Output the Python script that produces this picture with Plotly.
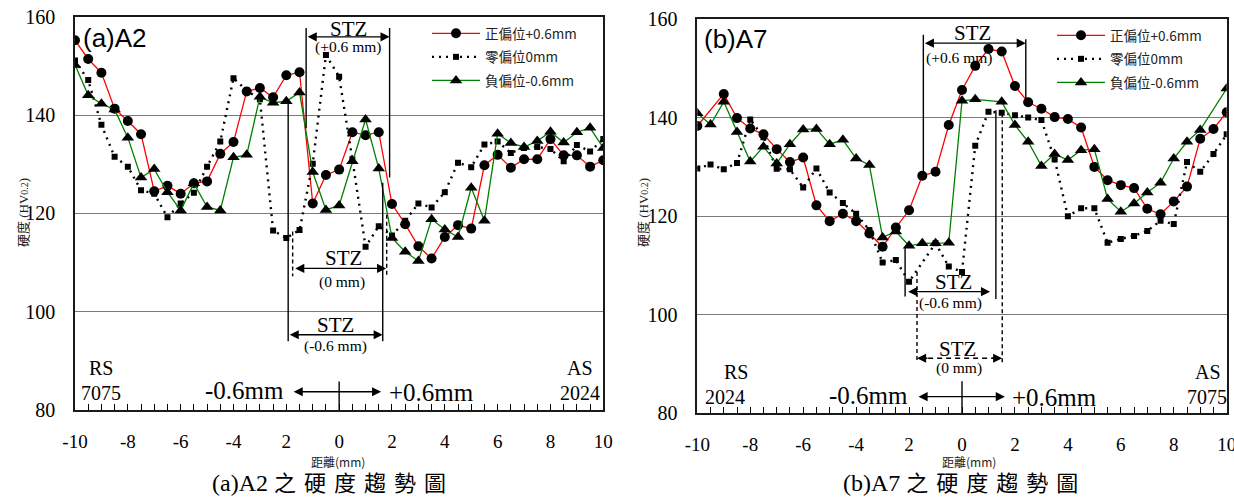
import plotly.graph_objects as go

# ---------------- data ----------------
SERIES_NAMES = ["正偏位+0.6mm", "零偏位0mm", "負偏位-0.6mm"]

# (a) A2 : hardness profile (HV0.2) vs distance from weld centre (mm)
x_a2 = [-10.0, -9.5, -9.0, -8.5, -8.0, -7.5, -7.0, -6.5, -6.0, -5.5, -5.0, -4.5, -4.0, -3.5,
        -3.0, -2.5, -2.0, -1.5, -1.0, -0.5, 0.0, 0.5, 1.0, 1.5, 2.0, 2.5, 3.0, 3.5, 4.0, 4.5,
        5.0, 5.5, 6.0, 6.5, 7.0, 7.5, 8.0, 8.5, 9.0, 9.5, 10.0]
pos_a2 = [155.2, 151.4, 148.6, 141.3, 138.8, 136.1, 124.5, 125.6, 124.0, 126.1, 126.5, 132.1,
          134.5, 144.8, 145.5, 143.6, 148.1, 148.7, 122.0, 127.8, 128.9, 136.5, 135.9, 136.5,
          121.9, 117.8, 113.3, 110.8, 115.2, 117.6, 116.9, 129.8, 131.9, 129.3, 131.0, 131.0,
          135.1, 131.8, 131.8, 129.5, 130.8]
zero_a2 = [151.1, 147.1, 138.0, 131.5, 129.5, 124.7, 124.0, 119.2, 122.0, 124.2, 129.5, 134.6,
           147.5, 145.0, 143.2, 116.5, 115.0, 116.6, 130.1, 152.2, 147.8, 131.0, 113.2, 117.4,
           115.5, 118.5, 122.0, 121.2, 124.3, 130.3, 129.4, 134.0, 134.6, 132.3, 133.3, 133.5,
           133.1, 130.6, 133.9, 132.6, 135.1]
neg_a2 = [150.2, 144.0, 142.3, 141.1, 135.4, 127.3, 129.0, 124.3, 120.6, 126.1, 121.3, 120.6,
          131.4, 131.9, 143.7, 142.5, 142.8, 144.6, 128.4, 120.7, 121.6, 130.6, 139.1, 129.1,
          115.0, 112.2, 110.3, 118.8, 116.7, 115.2, 125.2, 118.5, 136.2, 134.3, 133.5, 134.7,
          136.6, 134.4, 136.5, 137.4, 133.3]

# (b) A7
x_a7_pos = [-10.0, -9.0, -8.5, -8.0, -7.5, -7.0, -6.5, -6.0, -5.5, -5.0, -4.5, -4.0, -3.5,
            -3.0, -2.5, -2.0, -1.5, -1.0, -0.5, 0.0, 0.5, 1.0, 1.5, 2.0, 2.5, 3.0, 3.5, 4.0,
            4.5, 5.0, 5.5, 6.0, 6.5, 7.0, 7.5, 8.0, 8.5, 9.0, 9.5, 10.0]
pos_a7 = [138.3, 144.8, 139.9, 137.8, 136.6, 133.6, 131.0, 131.9, 122.2, 119.0, 120.5, 119.0,
          116.5, 113.8, 117.7, 121.2, 128.2, 129.0, 138.5, 145.6, 150.5, 153.9, 153.4, 146.4,
          143.1, 141.8, 140.1, 139.7, 138.0, 130.0, 127.3, 126.3, 125.7, 121.5, 120.4, 123.0,
          126.0, 135.7, 137.7, 141.1]
x_a7_zero = [-10.0, -9.5, -9.0, -8.5, -8.0, -7.5, -7.0, -6.5, -6.0, -5.5, -5.0, -4.5, -4.0,
             -3.5, -3.0, -2.5, -2.0, -1.0, -0.5, 0.0, 0.5, 1.0, 1.5, 2.0, 2.5, 3.0, 3.5, 4.0,
             4.5, 5.0, 5.5, 6.0, 6.5, 7.0, 7.5, 8.0, 8.5, 9.0, 9.5, 10.0]
zero_a7 = [129.7, 130.5, 129.5, 130.8, 139.6, 136.0, 129.6, 129.5, 125.8, 129.7, 124.8, 122.7,
           120.5, 117.2, 110.6, 111.1, 106.7, 114.5, 109.8, 108.7, 134.3, 141.2, 141.0, 140.5,
           140.0, 139.5, 131.5, 120.0, 121.6, 121.6, 114.6, 115.4, 116.0, 117.0, 119.1, 118.4,
           131.0, 129.0, 132.6, 136.6]
x_a7_neg = [-10.0, -9.5, -9.0, -8.5, -8.0, -7.5, -7.0, -6.5, -6.0, -5.5, -5.0, -4.5, -4.0,
            -3.5, -3.0, -2.5, -2.0, -1.5, -1.0, -0.5, 0.0, 0.5, 1.5, 2.0, 2.5, 3.0, 3.5, 4.0,
            4.5, 5.0, 5.5, 6.0, 6.5, 7.0, 7.5, 8.0, 8.5, 9.0, 10.0]
neg_a7 = [140.9, 138.6, 143.2, 137.1, 131.1, 134.1, 130.7, 134.6, 137.6, 137.7, 134.6, 135.5,
          131.7, 130.4, 115.7, 116.9, 114.0, 114.5, 114.5, 114.6, 143.4, 143.7, 143.2, 138.5,
          135.1, 130.2, 132.6, 131.4, 133.4, 133.6, 123.5, 120.9, 122.6, 124.8, 126.8, 131.7,
          135.1, 137.5, 145.9]

x_tick_vals = [-10, -8, -6, -4, -2, 0, 2, 4, 6, 8, 10]
x_tick_text = ["-10", "-8", "-6", "-4", "2", "0", "2", "4", "6", "8", "10"]
y_tick_vals = [80, 100, 120, 140, 160]

# ---------------- styling helpers ----------------
W, H = 1234, 498
SERIF = "Liberation Serif, Times New Roman, serif"
CJK = "Noto Sans CJK TC, Noto Sans CJK SC, sans-serif"
RED = "#ff0000"
GREEN = "#008000"

fig = go.Figure()


def add_panel(xa, ya, leg, xs, ys):
    specs = [
        (SERIES_NAMES[0], xs[0], ys[0], dict(color=RED, width=1.3), "circle", 10),
        (SERIES_NAMES[1], xs[1], ys[1], dict(color="black", width=2.4, dash="2px,5px"), "square", 6),
        (SERIES_NAMES[2], xs[2], ys[2], dict(color=GREEN, width=1.3), "triangle-up", 11),
    ]
    for i, (name, x, y, line, sym, size) in enumerate(specs):
        fig.add_trace(go.Scatter(
            x=x, y=y, name=name, mode="lines+markers", line=line,
            marker=dict(symbol=sym, size=size, color="black", line=dict(width=0)),
            xaxis=xa, yaxis=ya, legend=leg, legendgroup=f"{leg}{i}",
        ))


add_panel("x", "y", "legend", [x_a2, x_a2, x_a2], [pos_a2, zero_a2, neg_a2])
add_panel("x2", "y2", "legend2", [x_a7_pos, x_a7_zero, x_a7_neg], [pos_a7, zero_a7, neg_a7])

all_minor = [v / 2 for v in range(-20, 21)]
minor_text = [x_tick_text[x_tick_vals.index(v)] if v in x_tick_vals else "" for v in all_minor]


def xaxis_cfg(domain, anchor):
    return dict(
        domain=domain, anchor=anchor, range=[-10, 10], automargin=False,
        tickmode="array", tickvals=all_minor, ticktext=minor_text,
        ticks="inside", ticklen=6, tickwidth=1, tickcolor="black",
        showline=True, linecolor="#1a1a1a", linewidth=2, mirror=True,
        showgrid=False, zeroline=False, ticklabeloverflow="allow",
        tickfont=dict(family=SERIF, size=19, color="black"),
        ticklabelstandoff=13,
    )


def yaxis_cfg(domain, anchor):
    return dict(
        domain=domain, anchor=anchor, range=[80, 160], automargin=False,
        tickmode="array", tickvals=y_tick_vals,
        ticks="", showline=True, linecolor="#1a1a1a", linewidth=1.5, mirror=True,
        showgrid=True, gridcolor="#7a7a7a", gridwidth=1.4, zeroline=False,
        tickfont=dict(family=SERIF, size=20, color="black"),
        ticklabelstandoff=14,
    )


fig.update_layout(
    width=W, height=H, margin=dict(l=0, r=0, t=0, b=0, autoexpand=False),
    paper_bgcolor="white", plot_bgcolor="white",
    xaxis=xaxis_cfg([75 / W, 603.3 / W], "y"),
    yaxis=yaxis_cfg([(H - 410) / H, (H - 16.7) / H], "x"),
    xaxis2=xaxis_cfg([697.3 / W, 1226.7 / W], "y2"),
    yaxis2=yaxis_cfg([(H - 413.4) / H, (H - 19) / H], "x2"),
    showlegend=True,
)

legend_common = dict(
    xanchor="left", yanchor="top", bgcolor="rgba(0,0,0,0)",
    font=dict(family=CJK, size=13.5, color="#222"), tracegroupgap=3,
    itemwidth=48,
)
fig.update_layout(
    legend=dict(x=427 / W, y=(H - 18) / H, **legend_common),
    legend2=dict(x=1052 / W, y=(H - 20) / H, **legend_common),
)

shapes = []
annotations = []


def vline(xr, yr, x, y0, y1, dash="solid"):
    shapes.append(dict(type="line", xref=xr, yref=yr, x0=x, x1=x, y0=y0, y1=y1,
                       line=dict(color="black", width=1.4, dash=dash)))


def hline(xr, yr, x0, x1, y, dash="solid"):
    shapes.append(dict(type="line", xref=xr, yref=yr, x0=x0, x1=x1, y0=y, y1=y,
                       line=dict(color="black", width=1.4, dash=dash)))


def double_arrow(xr, yr, x0, x1, y):
    annotations.append(dict(xref=xr, yref=yr, axref=xr, ayref=yr, x=x1, y=y, ax=x0, ay=y,
                            text="", showarrow=True, arrowhead=2, arrowside="end+start",
                            arrowsize=1.3, arrowwidth=1.4, arrowcolor="black",
                            startarrowhead=2, startarrowsize=1.3, standoff=0, startstandoff=0))


def head(xr, yr, x, y, dx):
    annotations.append(dict(xref=xr, yref=yr, x=x, y=y, ax=dx, ay=0, text="", showarrow=True,
                            arrowhead=2, arrowsize=1.3, arrowwidth=1.4, arrowcolor="black",
                            standoff=0))


def label(xr, yr, x, y, text, size, family=SERIF, xanchor="center", color="black"):
    annotations.append(dict(xref=xr, yref=yr, x=x, y=y, text=text, showarrow=False,
                            xanchor=xanchor, yanchor="middle",
                            font=dict(family=family, size=size, color=color)))


# ---- panel (a) A2 annotations ----
xr, yr = "x", "y"
label(xr, yr, -9.78, 155.6, "(a)A2", 26, family="Liberation Sans, Arial, sans-serif", xanchor="left")
# STZ (+0.6 mm)
vline(xr, yr, -1.25, 157.7, 137.3)
vline(xr, yr, 1.91, 157.7, 127.3)
double_arrow(xr, yr, -1.25, 1.91, 155.9)
label(xr, yr, 0.35, 157.6, "STZ", 21)
label(xr, yr, 0.35, 153.9, "(+0.6 mm)", 15.5)
# STZ (0 mm)
vline(xr, yr, -1.76, 116.3, 107.2, dash="4px,3px")
vline(xr, yr, 1.80, 119.7, 107.2, dash="4px,3px")
double_arrow(xr, yr, -1.72, 1.78, 108.8)
label(xr, yr, 0.15, 111.0, "STZ", 21)
label(xr, yr, 0.1, 106.1, "(0 mm)", 15.5)
# STZ (-0.6 mm)
vline(xr, yr, -1.93, 143.2, 94.0)
vline(xr, yr, 1.65, 126.2, 94.0)
double_arrow(xr, yr, -1.93, 1.65, 95.3)
label(xr, yr, -0.15, 97.3, "STZ", 21)
label(xr, yr, -0.15, 93.1, "(-0.6 mm)", 15.5)
# sides and offset direction
label(xr, yr, -9.02, 88.5, "RS", 20)
label(xr, yr, -9.02, 83.4, "7075", 20)
label(xr, yr, 9.13, 88.5, "AS", 20)
label(xr, yr, 9.11, 83.4, "2024", 20)
double_arrow(xr, yr, -1.78, 1.59, 83.7)
vline(xr, yr, 0, 80, 85.8)
label(xr, yr, -2.02, 83.9, "-0.6mm", 25, xanchor="right")
label(xr, yr, 1.82, 83.5, "+0.6mm", 25, xanchor="left")

# ---- panel (b) A7 annotations ----
xr, yr = "x2", "y2"
label(xr, yr, -9.83, 156.0, "(b)A7", 26, family="Liberation Sans, Arial, sans-serif", xanchor="left")
# STZ (+0.6 mm)
vline(xr, yr, -1.46, 156.8, 128.2)
vline(xr, yr, 2.41, 155.9, 143.6)
double_arrow(xr, yr, -1.46, 2.41, 155.1)
label(xr, yr, 0.39, 157.1, "STZ", 21)
label(xr, yr, -0.11, 152.1, "(+0.6 mm)", 15.5)
# STZ (-0.6 mm)
vline(xr, yr, -2.15, 113.5, 103.7)
vline(xr, yr, 1.28, 141.5, 103.2)
double_arrow(xr, yr, -2.09, 1.06, 104.7)
label(xr, yr, -0.33, 106.6, "STZ", 21)
label(xr, yr, -0.45, 102.3, "(-0.6 mm)", 15.5)
# STZ (0 mm)
vline(xr, yr, -1.70, 108.7, 90.2, dash="4px,3px")
vline(xr, yr, 1.52, 140.9, 90.2, dash="4px,3px")
hline(xr, yr, -1.62, 1.44, 91.2, dash="5px,4px")
head(xr, yr, -1.70, 91.2, 12)
head(xr, yr, 1.52, 91.2, -12)
label(xr, yr, -0.16, 93.0, "STZ", 21)
label(xr, yr, -0.11, 89.3, "(0 mm)", 15.5)
# sides and offset direction
label(xr, yr, -8.55, 88.4, "RS", 20)
label(xr, yr, -8.95, 83.4, "2024", 20)
label(xr, yr, 9.3, 88.4, "AS", 20)
label(xr, yr, 9.25, 83.4, "7075", 20)
double_arrow(xr, yr, -1.70, 1.62, 83.4)
vline(xr, yr, 0, 80, 86.5)
label(xr, yr, -1.96, 83.6, "-0.6mm", 25, xanchor="right")
label(xr, yr, 1.83, 83.2, "+0.6mm", 25, xanchor="left")

# ---- axis titles and captions ----
ytitle = "硬度 (HV<span style='font-size:10px'>0.2</span>)"
for xp in (23 / W, 643 / W):
    annotations.append(dict(xref="paper", yref="paper", x=xp, y=(H - 213) / H, text=ytitle,
                            textangle=-90, showarrow=False, xanchor="center", yanchor="middle",
                            font=dict(family="Liberation Serif, Noto Sans CJK TC", size=13, color="#222")))
for xc, tag in ((330 / W, "(a)A2"), (961 / W, "(b)A7")):
    annotations.append(dict(xref="paper", yref="paper", x=xc + 8 / W, y=(H - 461) / H,
                            text="距離(mm)", showarrow=False, xanchor="center", yanchor="middle",
                            font=dict(family=CJK, size=12, color="#222")))
    cap = tag + " <span style='letter-spacing:8px;font-size:22px'>之硬度趨勢圖</span>"
    annotations.append(dict(xref="paper", yref="paper", x=xc + 3 / W, y=(H - 483) / H,
                            text=cap, showarrow=False, xanchor="center", yanchor="middle",
                            font=dict(family="Liberation Serif, Noto Sans CJK TC", size=24,
                                      color="black")))

fig.update_layout(shapes=shapes, annotations=annotations)
fig.write_html("out.html", post_script="document.body.style.margin='0px';")
